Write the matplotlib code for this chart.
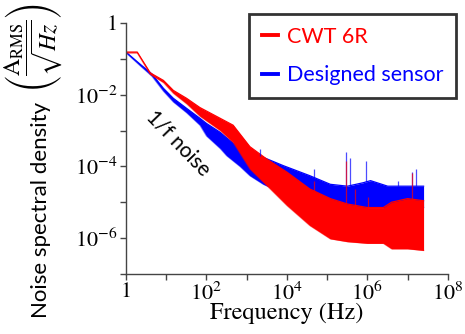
import numpy as np
import matplotlib
matplotlib.use("Agg")
import matplotlib.pyplot as plt
from matplotlib.lines import Line2D
from matplotlib.ticker import NullLocator

plt.rcParams['mathtext.fontset'] = 'stix'

# ---------------- data ----------------
red_freq = [1, 1.9, 4.0, 8.5, 15, 32, 69, 220, 460, 1200, 3200, 1.0e4, 3.7e4,
            1.2e5, 3.2e5, 1.0e6, 2.5e6, 4.0e6, 1.0e7, 2.5e7]
red_upper = [0.155, 0.155, 0.0407, 0.0251, 0.0132, 0.00794, 0.00437, 0.00219,
             0.00141, 3.55e-4, 1.58e-4, 6.9e-5, 2.34e-5, 1.26e-5, 8.9e-6,
             7.1e-6, 7.1e-6, 1.0e-5, 1.26e-5, 1.1e-5]
red_lower = [0.148, 0.148, 0.0372, 0.0219, 0.0110, 0.00562, 0.00251, 0.00100,
             4.68e-4, 8.5e-5, 2.88e-5, 8.1e-6, 2.24e-6, 9.5e-7, 7.9e-7,
             7.1e-7, 7.1e-7, 5.0e-7, 5.0e-7, 4.5e-7]

blue_freq = [1, 2.2, 4.4, 8.5, 15, 32, 69, 100, 220, 316, 680, 1200, 2600,
             8100, 3.7e4, 1.2e5, 3.2e5, 7.9e5, 1.2e6, 3.2e6, 1.0e7, 2.5e7]
blue_upper = [0.155, 0.0724, 0.038, 0.0151, 0.00794, 0.00417, 0.00219, 0.00158,
              8.9e-4, 6.3e-4, 3.16e-4, 2.5e-4, 1.78e-4, 1.05e-4, 5.5e-5,
              3.16e-5, 2.8e-5, 3.5e-5, 4.0e-5, 2.8e-5, 2.8e-5, 2.8e-5]
blue_lower = [0.148, 0.066, 0.033, 0.0126, 0.0063, 0.00316, 0.00141, 7.1e-4,
              3.16e-4, 2.0e-4, 1.0e-4, 5.5e-5, 3.16e-5, 1.78e-5, 1.0e-5,
              7.9e-6, 7.1e-6, 7.1e-6, 7.1e-6, 7.1e-6, 7.1e-6, 7.1e-6]

blue_spike_freq = [2200, 4.8e4, 2.9e5, 3.7e5, 9.5e5, 5.9e6, 1.3e7, 1.6e7]
blue_spike_top = [3.0e-4, 8.7e-5, 2.6e-4, 1.66e-4, 1.38e-4, 4.0e-5, 7.1e-5, 8.7e-5]
red_spike_freq = [4.8e4, 2.9e5, 4.9e5, 1.05e6, 1.26e7]
red_spike_top = [4.0e-5, 1.45e-4, 2.3e-5, 1.4e-5, 6.5e-5]

series_names = ["CWT 6R", "Designed sensor"]
x_ticks = [1, 1e1, 1e2, 1e3, 1e4, 1e5, 1e6, 1e7, 1e8]
x_labels = ["1", "", "$10^2$", "", "$10^4$", "", "$10^6$", "", "$10^8$"]
y_ticks = [1e-7, 1e-6, 1e-5, 1e-4, 1e-3, 1e-2, 1e-1, 1]
y_labels = ["", "$10^{-6}$", "", "$10^{-4}$", "", "$10^{-2}$", "", "1"]

RED = "#ff0000"
BLUE = "#0000ff"

fig = plt.figure(figsize=(4.65, 3.34), dpi=100)
ax = fig.add_axes([0.271, 0.180, 0.692, 0.751])
ax.set_xscale('log')
ax.set_yscale('log')


def log_interp(fq, fp, vp):
    return 10 ** np.interp(np.log10(fq), np.log10(fp), np.log10(vp))


# blue first (below), then red on top
for fr, up, lo, col in [(blue_freq, blue_upper, blue_lower, BLUE),
                        (red_freq, red_upper, red_lower, RED)]:
    ax.fill_between(fr, lo, up, color=col, linewidth=0, zorder=2)
    ax.plot(fr, up, color=col, lw=0.9, zorder=2)
    ax.plot(fr, lo, color=col, lw=0.9, alpha=0.5, zorder=2)

ax.vlines(blue_spike_freq, log_interp(blue_spike_freq, blue_freq, blue_upper),
          blue_spike_top, color=BLUE, lw=0.9, alpha=0.7, zorder=2)
ax.vlines(red_spike_freq, log_interp(red_spike_freq, red_freq, red_upper),
          red_spike_top, color=RED, lw=0.9, alpha=0.7, zorder=3)

ax.set_xlim(1, 1e8)
ax.set_ylim(1e-7, 1)
ax.set_xticks(x_ticks)
ax.set_xticklabels(x_labels)
ax.set_yticks(y_ticks)
ax.set_yticklabels(y_labels)
ax.xaxis.set_minor_locator(NullLocator())
ax.yaxis.set_minor_locator(NullLocator())

for s in ['top', 'right']:
    ax.spines[s].set_visible(False)
for s in ['left', 'bottom']:
    ax.spines[s].set_color('#444444')
    ax.spines[s].set_linewidth(1.0)
ax.tick_params(axis='both', which='major', direction='out', length=4,
               width=1.0, color='#444444', labelsize=16, pad=2)
for lab in ax.get_xticklabels() + ax.get_yticklabels():
    lab.set_fontfamily('STIXGeneral')

ax.set_xlabel("Frequency (Hz)", fontsize=17.5, family='STIXGeneral', labelpad=-2)

fig.text(0.088, 0.371, "Noise spectral density", rotation=90, fontsize=16,
         family='Lato', ha='center', va='center')
fig.text(0.071, 0.856, r"$\left(\dfrac{\mathrm{A_{RMS}}}{\sqrt{Hz}}\right)$",
         rotation=90, fontsize=17, ha='center', va='center')

ax.text(20, 4.4e-4, "1/f noise", rotation=-46, fontsize=15, family='Lato',
        ha='center', va='center', rotation_mode='anchor')

handles = [Line2D([], [], color=RED, lw=2.8), Line2D([], [], color=BLUE, lw=2.8)]
leg = fig.legend(handles, series_names, loc='upper right',
                 bbox_to_anchor=(0.981, 0.958), frameon=True, fancybox=False,
                 prop={'family': 'Lato', 'size': 15.5}, handlelength=0.75,
                 handletextpad=0.4, borderpad=0.6, labelspacing=0.85,
                 borderaxespad=0)
leg.get_frame().set_edgecolor('black')
leg.get_frame().set_linewidth(2.0)
for t, c in zip(leg.get_texts(), [RED, BLUE]):
    t.set_color(c)

fig.savefig("out.png", dpi=100)
